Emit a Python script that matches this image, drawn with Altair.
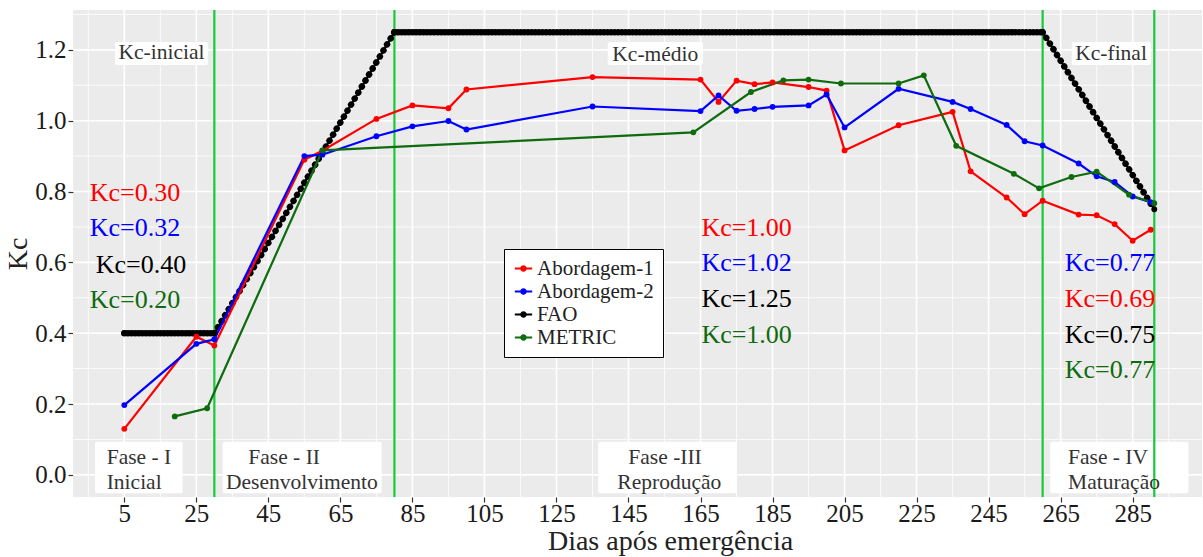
import altair as alt
import pandas as pd

SERIF = "Liberation Serif"

# ---- Séries de Kc (dias após emergência, Kc) ----
dias_ab1 = [5, 25, 30, 55, 60, 75, 85, 95, 100, 135, 165, 170, 175, 180, 185, 195, 200,
            205, 220, 235, 240, 250, 255, 260, 270, 275, 280, 285, 290]
kc_ab1 = [0.13, 0.39, 0.365, 0.89, 0.915, 1.005, 1.043, 1.035, 1.088, 1.123, 1.116, 1.053,
          1.113, 1.103, 1.108, 1.095, 1.085, 0.916, 0.987, 1.025, 0.857, 0.783, 0.736,
          0.774, 0.735, 0.733, 0.708, 0.661, 0.692]

dias_ab2 = [5, 25, 30, 55, 60, 75, 85, 95, 100, 135, 165, 170, 175, 180, 185, 195, 200,
            205, 220, 235, 240, 250, 255, 260, 270, 275, 280, 285, 290]
kc_ab2 = [0.197, 0.37, 0.383, 0.90, 0.904, 0.956, 0.984, 0.999, 0.975, 1.040, 1.027, 1.071,
          1.028, 1.033, 1.039, 1.043, 1.074, 0.981, 1.090, 1.053, 1.033, 0.988, 0.942,
          0.930, 0.879, 0.843, 0.827, 0.786, 0.770]

dias_metric = [19, 28, 60, 163, 179, 188, 195, 204, 220, 227, 236, 252, 259, 268, 275, 284, 291]
kc_metric = [0.165, 0.188, 0.916, 0.967, 1.081, 1.114, 1.116, 1.105, 1.105, 1.128, 0.929,
             0.850, 0.809, 0.841, 0.856, 0.791, 0.767]

# Curva FAO: Kc-inicial 0.40, Kc-médio 1.25, Kc-final 0.75
dias_fao = [5, 30, 80, 260, 291]
kc_fao = [0.40, 0.40, 1.25, 1.25, 0.75]

series = ["Abordagem-1", "Abordagem-2", "FAO", "METRIC"]
cores = ["#FF0000", "#0000FF", "#000000", "#0E6B0E"]

# Limites das fases fenológicas
limites_fase = [30, 80, 260, 291]

# Marcas de eixo e grade
x_major = [5, 25, 45, 65, 85, 105, 125, 145, 165, 185, 205, 225, 245, 265, 285]
x_minor = [-5, 15, 35, 55, 75, 95, 115, 135, 155, 175, 195, 215, 235, 255, 275, 295]
y_major = [0.0, 0.2, 0.4, 0.6, 0.8, 1.0, 1.2]
y_minor = [0.1, 0.3, 0.5, 0.7, 0.9, 1.1, 1.3]

# Rótulos de Kc médio por fase
kc_textos = ["Kc=0.30", "Kc=0.32", "Kc=0.40", "Kc=0.20",
             "Kc=1.00", "Kc=1.02", "Kc=1.25", "Kc=1.00",
             "Kc=0.77", "Kc=0.69", "Kc=0.75", "Kc=0.77"]
kc_cores = ["#FF0000", "#0000FF", "#000000", "#0E6B0E",
            "#FF0000", "#0000FF", "#000000", "#0E6B0E",
            "#0000FF", "#FF0000", "#000000", "#0E6B0E"]
kc_x = [7.97, 7.97, 9.64, 7.97, 177.8, 177.8, 177.8, 177.8, 278.7, 278.7, 278.7, 278.7]
kc_y = [0.795, 0.696, 0.593, 0.494, 0.696, 0.597, 0.496, 0.395, 0.597, 0.497, 0.395, 0.296]

# Rótulos das fases (caixas brancas na base)
fase_caixa_x = [-3.14, 32.32, 136.6, 262.1]
fase_caixa_x2 = [21.2, 76.47, 175.06, 300.5]
fase_caixa_y = [0.0937, 0.0937, 0.0937, 0.0937]
fase_caixa_y2 = [-0.052, -0.052, -0.052, -0.052]
fase_linha1 = ["Fase - I", "Fase - II", "Fase -III", "Fase - IV"]
fase_linha1_x = [0.11, 39.43, 144.96, 267.05]
fase_linha2 = ["Inicial", "Desenvolvimento", "Reprodução", "Maturação"]
fase_linha2_x = [0.11, 33.24, 141.9, 267.05]

# Rótulos de Kc da FAO (caixas no topo)
topo_textos = ["Kc-inicial", "Kc-médio", "Kc-final"]
topo_x = [15.33, 152.45, 279.0]
topo_y = [1.19, 1.185, 1.188]
topo_caixa_x = [2.41, 139.23, 268.08]
topo_caixa_x2 = [28.24, 165.7, 290.02]

# ---- Tabelas ----
pontos = pd.concat([
    pd.DataFrame({"dia": dias_ab1, "kc": kc_ab1, "serie": "Abordagem-1"}),
    pd.DataFrame({"dia": dias_ab2, "kc": kc_ab2, "serie": "Abordagem-2"}),
    pd.DataFrame({"dia": dias_fao, "kc": kc_fao, "serie": "FAO"}),
    pd.DataFrame({"dia": dias_metric, "kc": kc_metric, "serie": "METRIC"}),
], ignore_index=True)
linhas = pontos[pontos["serie"] != "FAO"]

segs = []
for i in range(len(dias_fao) - 1):
    if kc_fao[i + 1] == kc_fao[i]:
        tipo = "plano"
    elif kc_fao[i + 1] > kc_fao[i]:
        tipo = "subida"
    else:
        tipo = "descida"
    for j in (i, i + 1):
        segs.append({"dia": dias_fao[j], "kc": kc_fao[j], "seg": i, "tipo": tipo})
fao_segs = pd.DataFrame(segs)

kc_rotulos = pd.DataFrame({"dia": kc_x, "kc": kc_y, "texto": kc_textos, "cor": kc_cores})
caixas = pd.DataFrame({
    "x": fase_caixa_x + topo_caixa_x,
    "x2": fase_caixa_x2 + topo_caixa_x2,
    "y": fase_caixa_y + [1.222] * 3,
    "y2": fase_caixa_y2 + [1.157] * 3,
})
fase_textos = pd.DataFrame({
    "dia": fase_linha1_x + fase_linha2_x,
    "kc": [0.047] * 4 + [-0.022] * 4,
    "texto": fase_linha1 + fase_linha2,
})
topo = pd.DataFrame({"dia": topo_x, "kc": topo_y, "texto": topo_textos})

# ---- Escalas e eixos ----
xs = alt.Scale(domain=[-9.25, 304.25], nice=False, zero=False)
ys = alt.Scale(domain=[-0.0625, 1.3125], nice=False, zero=False)
cs = alt.Scale(domain=series, range=cores)

eixo_x = alt.Axis(values=x_major, format="d", title="Dias após emergência", grid=False,
                  domain=False, tickSize=5, tickColor="#333333", tickWidth=1.2,
                  labelFont=SERIF, labelFontSize=25, labelColor="#1a1a1a", labelPadding=-1,
                  labelOverlap=False, labelFlush=False,
                  titleFont=SERIF, titleFontSize=28, titleFontWeight="normal",
                  titleColor="#222222", titlePadding=1, titleX=597)
eixo_y = alt.Axis(values=y_major, format=".1f", title="Kc", grid=False, domain=False,
                  tickSize=5, tickColor="#333333", tickWidth=1.2,
                  labelFont=SERIF, labelFontSize=25, labelColor="#1a1a1a", labelPadding=2,
                  labelOverlap=False, labelFlush=False,
                  titleFont=SERIF, titleFontSize=28, titleFontWeight="normal",
                  titleColor="#222222", titlePadding=2)

simbolo = ("M-1,-0.12L1,-0.12L1,0.12L-1,0.12Z "
           "M0.38,0A0.38,0.38 0 1,1 -0.38,0A0.38,0.38 0 1,1 0.38,0Z")
legenda = alt.Legend(title=None, orient="none", legendX=431, legendY=239,
                     fillColor="white", strokeColor="black", padding=9,
                     labelFont=SERIF, labelFontSize=21, labelColor="#222222",
                     labelOffset=3, rowPadding=1, symbolType=simbolo, symbolSize=300,
                     symbolStrokeWidth=0)


def X(campo):
    return alt.X(campo, scale=xs, axis=eixo_x)


def Y(campo):
    return alt.Y(campo, scale=ys, axis=eixo_y)


def grade(valores, canal, largura):
    df = pd.DataFrame({"v": valores})
    enc = X("v:Q") if canal == "x" else Y("v:Q")
    return alt.Chart(df).mark_rule(color="white", strokeWidth=largura).encode(**{canal: enc})


g_minor_x = grade(x_minor, "x", 0.8)
g_minor_y = grade(y_minor, "y", 0.8)
g_major_x = grade(x_major, "x", 1.6)
g_major_y = grade(y_major, "y", 1.6)

caixas_l = alt.Chart(caixas).mark_rect(fill="white", cornerRadius=2).encode(
    x=X("x:Q"), x2="x2:Q", y=Y("y:Q"), y2="y2:Q")

fases_l = alt.Chart(pd.DataFrame({"dia": limites_fase})).mark_rule(
    color="#19C93B", strokeWidth=2.2).encode(x=X("dia:Q"))

fao_base = alt.Chart(fao_segs).mark_line(color="black", strokeWidth=2.2).encode(
    x=X("dia:Q"), y=Y("kc:Q"), detail="seg:N")


def fao_pontilhado(tipo, passo):
    return alt.Chart(fao_segs).transform_filter(alt.datum.tipo == tipo).mark_line(
        color="black", strokeWidth=6.5, strokeCap="round", strokeDash=[0.01, passo]
    ).encode(x=X("dia:Q"), y=Y("kc:Q"), detail="seg:N")


fao_plano = fao_pontilhado("plano", 3.6)
fao_subida = fao_pontilhado("subida", 7.0)
fao_descida = fao_pontilhado("descida", 6.75)

linhas_l = alt.Chart(linhas).mark_line(strokeWidth=2.2).encode(
    x=X("dia:Q"), y=Y("kc:Q"),
    color=alt.Color("serie:N", scale=cs, legend=None),
    detail="serie:N")

pontos_l = alt.Chart(pontos).mark_point(filled=True, size=34, opacity=1).encode(
    x=X("dia:Q"), y=Y("kc:Q"),
    color=alt.Color("serie:N", scale=cs, legend=legenda))

kc_l = alt.Chart(kc_rotulos).mark_text(font=SERIF, fontSize=26, align="center",
                                       baseline="middle").encode(
    x=X("dia:Q"), y=Y("kc:Q"), text="texto:N", color=alt.Color("cor:N", scale=None))

fase_l = alt.Chart(fase_textos).mark_text(font=SERIF, fontSize=21.5, align="left",
                                          baseline="middle", color="#333333").encode(
    x=X("dia:Q"), y=Y("kc:Q"), text="texto:N")

topo_l = alt.Chart(topo).mark_text(font=SERIF, fontSize=21.5, align="center",
                                   baseline="middle", color="#333333").encode(
    x=X("dia:Q"), y=Y("kc:Q"), text="texto:N")

chart = alt.layer(
    g_minor_x, g_minor_y, g_major_x, g_major_y, caixas_l, fases_l,
    fao_base, fao_plano, fao_subida, fao_descida,
    linhas_l, pontos_l, kc_l, fase_l, topo_l,
).resolve_scale(
    color="independent"
).resolve_legend(
    color="independent"
).properties(
    width=1129, height=487,
    autosize=alt.AutoSizeParams(type="none"),
    padding={"left": 73, "top": 10, "right": 1, "bottom": 60},
    background="white",
).configure_view(fill="#EBEBEB", stroke=None)

chart.save("out.html", embed_options={"renderer": "svg", "actions": False})
